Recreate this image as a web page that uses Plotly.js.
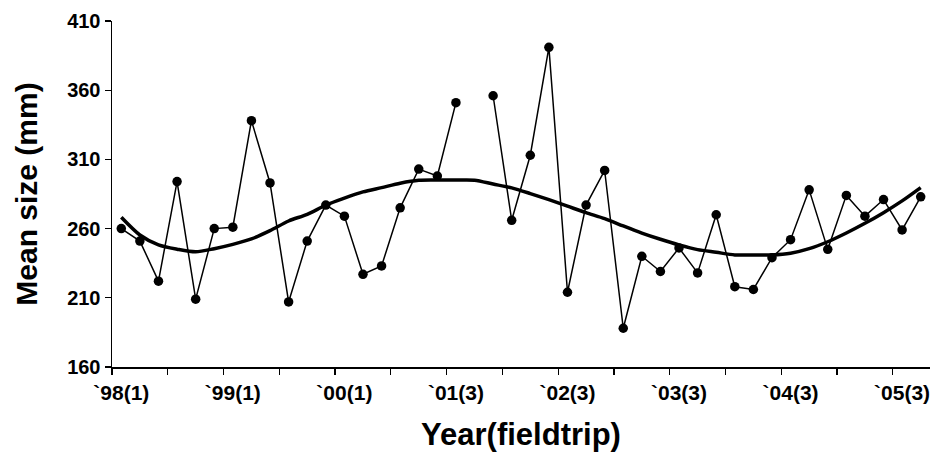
<!DOCTYPE html>
<html>
<head>
<meta charset="utf-8">
<script src="https://cdn.plot.ly/plotly-3.0.1.min.js"></script>
<style>
  html, body { margin: 0; padding: 0; background: #fff; }
  #chart { width: 935px; height: 465px; }
</style>
</head>
<body>
<div id="chart"></div>
<script>
// Mean size (mm) per fieldtrip; null = no sample
const meanSize = [260, 251, 222, 294, 209, 260, 261, 338, 293, 207,
                  251, 277, 269, 227, 233, 275, 303, 298, 351, null,
                  356, 266, 313, 391, 214, 277, 302, 188, 240, 229,
                  246, 228, 270, 218, 216, 239, 252, 288, 245, 284,
                  269, 281, 259, 283];
// Polynomial trend line values read at each fieldtrip
const trend = [268.2, 255.4, 248.2, 245.1, 243.2, 245.5, 248.6, 252.5, 258.5, 265.5,
               270.3, 276.9, 282.0, 286.5, 289.6, 292.8, 294.9, 295.1, 295.1, 295.0,
               292.2, 289.4, 285.3, 280.9, 276.2, 271.5, 267.2, 261.9, 256.8, 252.3,
               248.2, 244.8, 242.9, 241.0, 241.0, 241.0, 242.2, 245.5, 250.5, 256.8,
               263.8, 271.5, 280.0, 289.6];
// Labels shown every sixth fieldtrip
const tickLabels = ["`98(1)", "`99(1)", "`00(1)", "`01(3)", "`02(3)", "`03(3)", "`04(3)", "`05(3)"];
const labelEvery = 6;
const tickEvery = 3;

const n = meanSize.length;
const xs = meanSize.map((_, i) => i);
const labelVals = tickLabels.map((_, i) => i * labelEvery);
const boundaryVals = [];
for (let b = -0.5; b < n - 1; b += tickEvery) boundaryVals.push(b);

const fontFam = 'Liberation Sans, Arial, sans-serif';

const traces = [
  {
    x: xs, y: meanSize, type: 'scatter', mode: 'lines+markers',
    line: {color: '#000', width: 1.5},
    marker: {color: '#000', size: 9.5},
    connectgaps: false, showlegend: false, hoverinfo: 'x+y'
  },
  {
    x: xs, y: trend, type: 'scatter', mode: 'lines',
    line: {color: '#000', width: 3.5, shape: 'spline', smoothing: 0.8},
    showlegend: false, hoverinfo: 'skip'
  }
];

const layout = {
  width: 935, height: 465,
  margin: {l: 112, r: 5, t: 21, b: 98},
  paper_bgcolor: '#fff', plot_bgcolor: '#fff',
  font: {family: fontFam, color: '#000'},
  xaxis: {
    range: [-0.5, n - 0.5],
    showgrid: false, zeroline: false,
    showline: true, linecolor: '#000', linewidth: 1.5,
    tickmode: 'array', tickvals: labelVals, ticktext: tickLabels,
    ticks: '', ticklabelstandoff: 6,
    tickfont: {family: fontFam, size: 21, weight: 'bold', color: '#000'},
    minor: {tickmode: 'array', tickvals: boundaryVals, ticks: 'outside', ticklen: 6, tickwidth: 1.2, tickcolor: '#000', showgrid: false},
    title: {text: 'Year(fieldtrip)', font: {family: fontFam, size: 31, weight: 'bold', color: '#000'}, standoff: 20}
  },
  yaxis: {
    range: [160, 410],
    tickmode: 'linear', tick0: 160, dtick: 50,
    showgrid: false, zeroline: false,
    showline: true, linecolor: '#000', linewidth: 1.5,
    ticks: 'outside', ticklen: 6, tickwidth: 1.2, tickcolor: '#000',
    tickfont: {family: fontFam, size: 20, weight: 'bold', color: '#000'},
    title: {text: 'Mean size (mm)', font: {family: fontFam, size: 30, weight: 'bold', color: '#000'}, standoff: 20}
  }
};

Plotly.newPlot('chart', traces, layout, {displayModeBar: false, staticPlot: true});
</script>
</body>
</html>
